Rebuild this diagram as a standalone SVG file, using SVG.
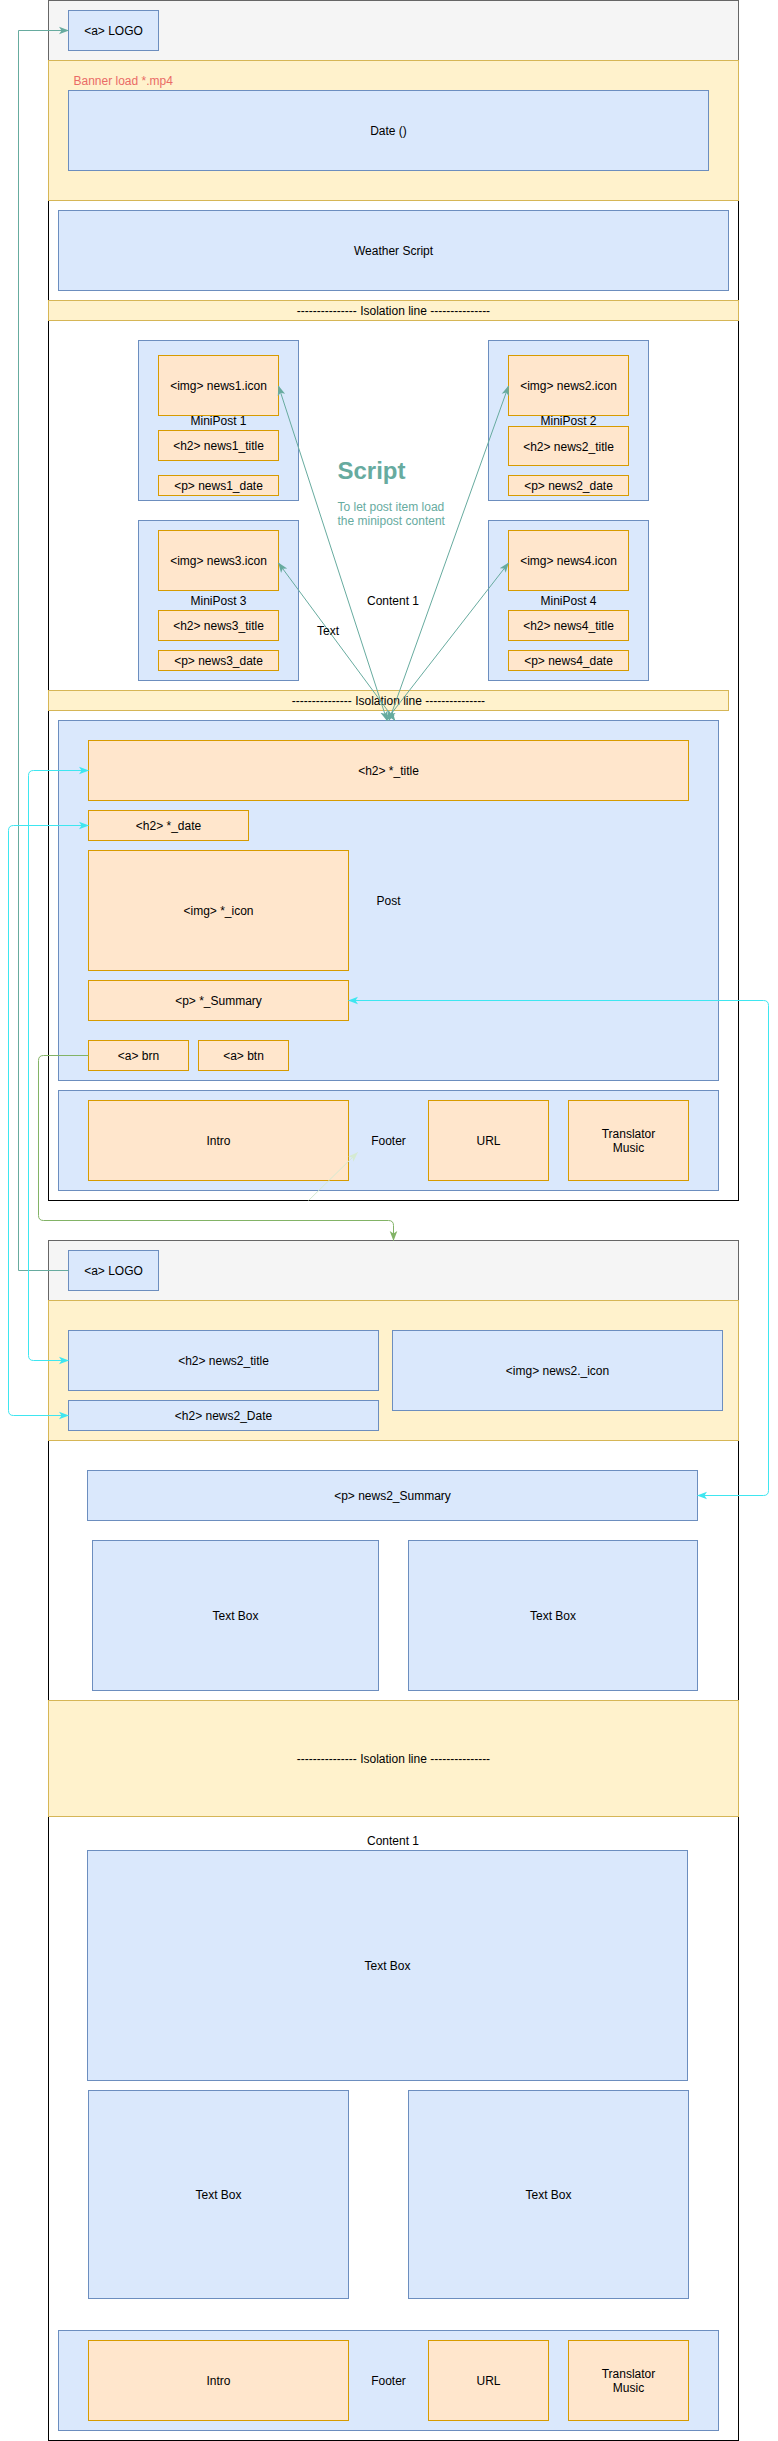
<svg xmlns="http://www.w3.org/2000/svg" width="778" height="2441" viewBox="0 0 778 2441">
<style>
text{font-family:"Liberation Sans",Arial,Helvetica,sans-serif;font-size:12px;fill:#000;}
.c{text-anchor:middle;dominant-baseline:central;}
.frame{fill:#ffffff;stroke:#000000;stroke-width:1;}
.hdr{fill:#f5f5f5;stroke:#666666;stroke-width:1;}
.yel{fill:#fff2cc;stroke:#d6b656;stroke-width:1;}
.blu{fill:#dae8fc;stroke:#6c8ebf;stroke-width:1;}
.org{fill:#ffe6cc;stroke:#d79b00;stroke-width:1;}
.teal{fill:none;stroke:#67ab9f;stroke-width:1;}
.cyan{fill:none;stroke:#3ee6f0;stroke-width:1;}
.green{fill:none;stroke:#82b366;stroke-width:1;}
.faint{fill:none;stroke:#d5ead2;stroke-width:1;}
.script{font-size:24px;font-weight:bold;fill:#67ab9f;}
.note{fill:#67ab9f;}
.banner{fill:#ea6b66;}
</style>
<defs>
<marker id="aTeal" markerUnits="userSpaceOnUse" markerWidth="10" markerHeight="10" viewBox="0 0 10 10" refX="9.5" refY="5" orient="auto-start-reverse"><path d="M0,1.2 L10,5 L0,8.8 L2.5,5 Z" fill="#67ab9f"/></marker>
<marker id="aCyan" markerUnits="userSpaceOnUse" markerWidth="10" markerHeight="10" viewBox="0 0 10 10" refX="9.5" refY="5" orient="auto-start-reverse"><path d="M0,1.2 L10,5 L0,8.8 L2.5,5 Z" fill="#3ee6f0"/></marker>
<marker id="aGreen" markerUnits="userSpaceOnUse" markerWidth="10" markerHeight="10" viewBox="0 0 10 10" refX="9.5" refY="5" orient="auto-start-reverse"><path d="M0,1.2 L10,5 L0,8.8 L2.5,5 Z" fill="#82b366"/></marker>
<marker id="aFaint" markerUnits="userSpaceOnUse" markerWidth="10" markerHeight="10" viewBox="0 0 10 10" refX="9.5" refY="5" orient="auto-start-reverse"><path d="M0,1.2 L10,5 L0,8.8 L2.5,5 Z" fill="#d5ead2"/></marker>
</defs>
<rect x="0" y="0" width="778" height="2441" fill="#ffffff"/>

<!-- ===== Page 1 ===== -->
<g id="page1">
<rect class="frame" x="48.5" y="0.5" width="690" height="1200"/>
<g id="header1"><rect class="hdr" x="48.5" y="0.5" width="690" height="60"/></g>
<g id="logo1"><rect class="blu" x="68.5" y="10.5" width="90" height="40"/><text class="c" x="113.5" y="30.5">&lt;a&gt; LOGO</text></g>
<g id="banner1"><rect class="yel" x="48.5" y="60.5" width="690" height="140"/><text class="banner" x="73.5" y="81" dominant-baseline="central">Banner load *.mp4</text></g>
<g id="date1"><rect class="blu" x="68.5" y="90.5" width="640" height="80"/><text class="c" x="388.5" y="130.5">Date ()</text></g>
<g id="weather"><rect class="blu" x="58.5" y="210.5" width="670" height="80"/><text class="c" x="393.5" y="250.5">Weather Script</text></g>
<g id="iso1"><rect class="yel" x="48.5" y="300.5" width="690" height="20"/><text class="c" x="393.5" y="310.5">--------------- Isolation line ---------------</text></g>

<g id="minipost1"><rect class="blu" x="138.5" y="340.5" width="160" height="160"/><text class="c" x="218.5" y="420.5">MiniPost 1</text></g>
<g id="news1icon"><rect class="org" x="158.5" y="355.5" width="120" height="60"/><text class="c" x="218.5" y="385.5">&lt;img&gt; news1.icon</text></g>
<g id="news1title"><rect class="org" x="158.5" y="430.5" width="120" height="30"/><text class="c" x="218.5" y="445.5">&lt;h2&gt; news1_title</text></g>
<g id="news1date"><rect class="org" x="158.5" y="475.5" width="120" height="20"/><text class="c" x="218.5" y="485.5">&lt;p&gt; news1_date</text></g>

<g id="minipost2"><rect class="blu" x="488.5" y="340.5" width="160" height="160"/><text class="c" x="568.5" y="420.5">MiniPost 2</text></g>
<g id="news2icon"><rect class="org" x="508.5" y="355.5" width="120" height="60"/><text class="c" x="568.5" y="385.5">&lt;img&gt; news2.icon</text></g>
<g id="news2title"><rect class="org" x="508.5" y="426.5" width="120" height="39"/><text class="c" x="568.5" y="446.5">&lt;h2&gt; news2_title</text></g>
<g id="news2date"><rect class="org" x="508.5" y="475.5" width="120" height="20"/><text class="c" x="568.5" y="486">&lt;p&gt; news2_date</text></g>

<g id="minipost3"><rect class="blu" x="138.5" y="520.5" width="160" height="160"/><text class="c" x="218.5" y="600.5">MiniPost 3</text></g>
<g id="news3icon"><rect class="org" x="158.5" y="530.5" width="120" height="60"/><text class="c" x="218.5" y="560.5">&lt;img&gt; news3.icon</text></g>
<g id="news3title"><rect class="org" x="158.5" y="610.5" width="120" height="30"/><text class="c" x="218.5" y="625.5">&lt;h2&gt; news3_title</text></g>
<g id="news3date"><rect class="org" x="158.5" y="650.5" width="120" height="20"/><text class="c" x="218.5" y="660.5">&lt;p&gt; news3_date</text></g>

<g id="minipost4"><rect class="blu" x="488.5" y="520.5" width="160" height="160"/><text class="c" x="568.5" y="600.5">MiniPost 4</text></g>
<g id="news4icon"><rect class="org" x="508.5" y="530.5" width="120" height="60"/><text class="c" x="568.5" y="560.5">&lt;img&gt; news4.icon</text></g>
<g id="news4title"><rect class="org" x="508.5" y="610.5" width="120" height="30"/><text class="c" x="568.5" y="625.5">&lt;h2&gt; news4_title</text></g>
<g id="news4date"><rect class="org" x="508.5" y="650.5" width="120" height="20"/><text class="c" x="568.5" y="660.5">&lt;p&gt; news4_date</text></g>

<g id="scriptLabel"><text class="script" x="337.5" y="470" dominant-baseline="central">Script</text>
<text class="note" x="337.5" y="507" dominant-baseline="central">To let post item load</text>
<text class="note" x="337.5" y="521" dominant-baseline="central">the minipost content</text></g>
<g id="content1label"><text class="c" x="393" y="600.5">Content 1</text></g>

<g id="iso2"><rect class="yel" x="48.5" y="690.5" width="680" height="20"/><text class="c" x="388.5" y="700.5">--------------- Isolation line ---------------</text></g>

<g id="post"><rect class="blu" x="58.5" y="720.5" width="660" height="360"/><text class="c" x="388.5" y="900.5">Post</text></g>
<g id="ptitle"><rect class="org" x="88.5" y="740.5" width="600" height="60"/><text class="c" x="388.5" y="770.5">&lt;h2&gt; *_title</text></g>
<g id="pdate"><rect class="org" x="88.5" y="810.5" width="160" height="30"/><text class="c" x="168.5" y="825.5">&lt;h2&gt; *_date</text></g>
<g id="picon"><rect class="org" x="88.5" y="850.5" width="260" height="120"/><text class="c" x="218.5" y="910.5">&lt;img&gt; *_icon</text></g>
<g id="psummary"><rect class="org" x="88.5" y="980.5" width="260" height="40"/><text class="c" x="218.5" y="1000.5">&lt;p&gt; *_Summary</text></g>
<g id="pbrn"><rect class="org" x="88.5" y="1040.5" width="100" height="30"/><text class="c" x="138.5" y="1055.5">&lt;a&gt; brn</text></g>
<g id="pbtn"><rect class="org" x="198.5" y="1040.5" width="90" height="30"/><text class="c" x="243.5" y="1055.5">&lt;a&gt; btn</text></g>

<g id="footer1"><rect class="blu" x="58.5" y="1090.5" width="660" height="100"/><text class="c" x="388.5" y="1140.5">Footer</text></g>
<g id="intro1"><rect class="org" x="88.5" y="1100.5" width="260" height="80"/><text class="c" x="218.5" y="1140.5">Intro</text></g>
<g id="url1"><rect class="org" x="428.5" y="1100.5" width="120" height="80"/><text class="c" x="488.5" y="1140.5">URL</text></g>
<g id="trans1"><rect class="org" x="568.5" y="1100.5" width="120" height="80"/><text class="c" x="628.5" y="1134">Translator</text><text class="c" x="628.5" y="1148">Music</text></g>
</g>

<!-- ===== Page 2 ===== -->
<g id="page2">
<rect class="frame" x="48.5" y="1240.5" width="690" height="1200"/>
<g id="header2"><rect class="hdr" x="48.5" y="1240.5" width="690" height="60"/></g>
<g id="logo2"><rect class="blu" x="68.5" y="1250.5" width="90" height="40"/><text class="c" x="113.5" y="1270.5">&lt;a&gt; LOGO</text></g>
<g id="banner2"><rect class="yel" x="48.5" y="1300.5" width="690" height="140"/></g>
<g id="n2title"><rect class="blu" x="68.5" y="1330.5" width="310" height="60"/><text class="c" x="223.5" y="1360.5">&lt;h2&gt; news2_title</text></g>
<g id="n2date"><rect class="blu" x="68.5" y="1400.5" width="310" height="30"/><text class="c" x="223.5" y="1415.5">&lt;h2&gt; news2_Date</text></g>
<g id="n2icon"><rect class="blu" x="392.5" y="1330.5" width="330" height="80"/><text class="c" x="557.5" y="1370.5">&lt;img&gt; news2._icon</text></g>
<g id="n2summary"><rect class="blu" x="87.5" y="1470.5" width="610" height="50"/><text class="c" x="392.5" y="1495.5">&lt;p&gt; news2_Summary</text></g>
<g id="tbox1"><rect class="blu" x="92.5" y="1540.5" width="286" height="150"/><text class="c" x="235.5" y="1615.5">Text Box</text></g>
<g id="tbox2"><rect class="blu" x="408.5" y="1540.5" width="289" height="150"/><text class="c" x="553" y="1615.5">Text Box</text></g>
<g id="iso3"><rect class="yel" x="48.5" y="1700.5" width="690" height="116"/><text class="c" x="393.5" y="1758.5">--------------- Isolation line ---------------</text></g>
<g id="content2label"><text class="c" x="393" y="1840.5">Content 1</text></g>
<g id="tbox3"><rect class="blu" x="87.5" y="1850.5" width="600" height="230"/><text class="c" x="387.5" y="1965.5">Text Box</text></g>
<g id="tbox4"><rect class="blu" x="88.5" y="2090.5" width="260" height="208"/><text class="c" x="218.5" y="2194.5">Text Box</text></g>
<g id="tbox5"><rect class="blu" x="408.5" y="2090.5" width="280" height="208"/><text class="c" x="548.5" y="2194.5">Text Box</text></g>
<g id="footer2"><rect class="blu" x="58.5" y="2330.5" width="660" height="100"/><text class="c" x="388.5" y="2380.5">Footer</text></g>
<g id="intro2"><rect class="org" x="88.5" y="2340.5" width="260" height="80"/><text class="c" x="218.5" y="2380.5">Intro</text></g>
<g id="url2"><rect class="org" x="428.5" y="2340.5" width="120" height="80"/><text class="c" x="488.5" y="2380.5">URL</text></g>
<g id="trans2"><rect class="org" x="568.5" y="2340.5" width="120" height="80"/><text class="c" x="628.5" y="2374">Translator</text><text class="c" x="628.5" y="2388">Music</text></g>
</g>

<!-- ===== Connectors ===== -->
<g id="connectors">
<path class="teal" d="M68.5,1270.5 H18.5 V30.5 H68.5" marker-end="url(#aTeal)"/>
<path class="teal" d="M387,720.5 L278.5,386" marker-start="url(#aTeal)" marker-end="url(#aTeal)"/>
<path class="teal" d="M389,720.5 L508.5,386" marker-start="url(#aTeal)" marker-end="url(#aTeal)"/>
<path class="teal" d="M395,720.5 L278.5,563" marker-start="url(#aTeal)" marker-end="url(#aTeal)"/>
<path class="teal" d="M386,720.5 L508.5,563" marker-start="url(#aTeal)" marker-end="url(#aTeal)"/>
<text x="328" y="630.5" class="c">Text</text>
<path class="cyan" d="M88.5,770.5 H33.5 Q28.5,770.5 28.5,775.5 V1355.5 Q28.5,1360.5 33.5,1360.5 H68.5" marker-start="url(#aCyan)" marker-end="url(#aCyan)"/>
<path class="cyan" d="M88.5,825.5 H13.5 Q8.5,825.5 8.5,830.5 V1410.5 Q8.5,1415.5 13.5,1415.5 H68.5" marker-start="url(#aCyan)" marker-end="url(#aCyan)"/>
<path class="cyan" d="M348.5,1000.5 H763.5 Q768.5,1000.5 768.5,1005.5 V1490.5 Q768.5,1495.5 763.5,1495.5 H697.5" marker-start="url(#aCyan)" marker-end="url(#aCyan)"/>
<path class="green" d="M88.5,1055.5 H43.5 Q38.5,1055.5 38.5,1060.5 V1215.5 Q38.5,1220.5 43.5,1220.5 H388.5 Q393.5,1220.5 393.5,1225.5 V1240.5" marker-end="url(#aGreen)"/>
<path class="faint" d="M308.5,1200.5 L357.5,1152.5" marker-end="url(#aFaint)"/>
</g>
</svg>
